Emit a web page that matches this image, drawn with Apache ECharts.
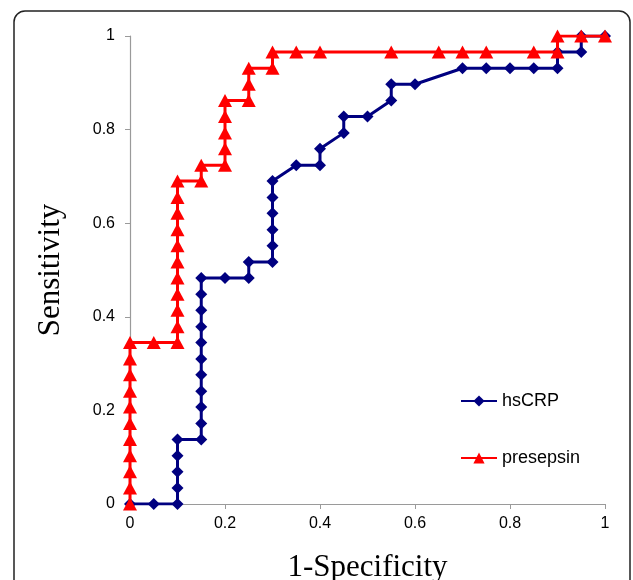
<!DOCTYPE html>
<html>
<head>
<meta charset="utf-8">
<script src="https://cdn.jsdelivr.net/npm/echarts@6/dist/echarts.min.js"></script>
<style>
html,body{margin:0;padding:0;background:#fff;}
#chart{width:633px;height:580px;}
</style>
</head>
<body>
<div id="chart"></div>
<script>
// hsCRP ROC points
const hsX = [0, 0.05, 0.1, 0.1, 0.1, 0.1, 0.1, 0.15, 0.15, 0.15, 0.15, 0.15, 0.15, 0.15, 0.15, 0.15, 0.15, 0.15,
             0.2, 0.25, 0.25, 0.3, 0.3, 0.3, 0.3, 0.3, 0.3, 0.35, 0.4, 0.4, 0.45, 0.45, 0.5, 0.55, 0.55, 0.6,
             0.7, 0.75, 0.8, 0.85, 0.9, 0.9, 0.95, 0.95, 1];
const hsY = [0, 0, 0, 0.034, 0.069, 0.103, 0.138, 0.138, 0.172, 0.207, 0.241, 0.276, 0.310, 0.345, 0.379, 0.414, 0.448, 0.483,
             0.483, 0.483, 0.517, 0.517, 0.552, 0.586, 0.621, 0.655, 0.690, 0.724, 0.724, 0.759, 0.793, 0.828, 0.828, 0.862, 0.897, 0.897,
             0.931, 0.931, 0.931, 0.931, 0.931, 0.966, 0.966, 1, 1];
// presepsin ROC points
const prX = [0, 0, 0, 0, 0, 0, 0, 0, 0, 0, 0, 0.05, 0.1, 0.1, 0.1, 0.1, 0.1, 0.1, 0.1, 0.1, 0.1, 0.1, 0.1,
             0.15, 0.15, 0.2, 0.2, 0.2, 0.2, 0.2, 0.25, 0.25, 0.25, 0.3, 0.3,
             0.35, 0.4, 0.55, 0.65, 0.7, 0.75, 0.85, 0.9, 0.9, 0.95, 1];
const prY = [0, 0.034, 0.069, 0.103, 0.138, 0.172, 0.207, 0.241, 0.276, 0.310, 0.345, 0.345, 0.345, 0.379, 0.414, 0.448, 0.483, 0.517, 0.552, 0.586, 0.621, 0.655, 0.690,
             0.690, 0.724, 0.724, 0.759, 0.793, 0.828, 0.862, 0.862, 0.897, 0.931, 0.931, 0.966,
             0.966, 0.966, 0.966, 0.966, 0.966, 0.966, 0.966, 0.966, 1, 1, 1];
const seriesNames = ['hsCRP', 'presepsin'];
const xTitle = '1-Specificity';
const yTitle = 'Sensitivity';

const chart = echarts.init(document.getElementById('chart'), null, {renderer: 'canvas'});
const pair = (xs, ys) => xs.map((x, i) => [x, ys[i]]);
const tickFmt = v => String(Math.round(v * 10) / 10);

chart.setOption({
  animation: false,
  backgroundColor: '#fff',
  graphic: [{
    type: 'rect', z: -10,
    shape: {x: 14, y: 11, width: 616, height: 620, r: 11},
    style: {fill: 'none', stroke: '#222', lineWidth: 1.5}
  }],
  grid: {left: 130, right: 28, top: 36, bottom: 76, containLabel: false, outerBoundsMode: 'none'},
  xAxis: {
    type: 'value', min: 0, max: 1, interval: 0.2,
    name: xTitle, nameLocation: 'middle', nameGap: 48,
    nameTextStyle: {fontFamily: 'Liberation Serif', fontSize: 31, color: '#000'},
    axisLine: {show: true, onZero: false, lineStyle: {color: '#9a9a9a', width: 1.2}},
    axisTick: {show: true, inside: false, length: 5, lineStyle: {color: '#9a9a9a'}},
    axisLabel: {fontFamily: 'Liberation Sans', fontSize: 16, color: '#000', margin: 12, formatter: tickFmt},
    splitLine: {show: false}
  },
  yAxis: {
    type: 'value', min: 0, max: 1, interval: 0.2,
    name: yTitle, nameLocation: 'middle', nameGap: 64, nameRotate: 90,
    nameTextStyle: {fontFamily: 'Liberation Serif', fontSize: 31, color: '#000'},
    axisLine: {show: true, onZero: false, lineStyle: {color: '#9a9a9a', width: 1.2}},
    axisTick: {show: true, inside: false, length: 5, lineStyle: {color: '#9a9a9a'}},
    axisLabel: {fontFamily: 'Liberation Sans', fontSize: 16, color: '#000', margin: 15, formatter: tickFmt},
    splitLine: {show: false}
  },
  legend: {
    orient: 'vertical', left: 460, top: 392, itemGap: 39, padding: 0,
    itemWidth: 36, itemHeight: 14,
    textStyle: {fontFamily: 'Liberation Sans', fontSize: 18, color: '#000'},
    data: seriesNames
  },
  series: [
    {
      name: seriesNames[0], type: 'line', data: pair(hsX, hsY),
      symbol: 'diamond', symbolSize: 12, showAllSymbol: true,
      lineStyle: {color: '#000080', width: 3},
      itemStyle: {color: '#000080'},
      z: 2
    },
    {
      name: seriesNames[1], type: 'line', data: pair(prX, prY),
      symbol: 'triangle', symbolSize: [14, 13], showAllSymbol: true,
      lineStyle: {color: '#ff0000', width: 3},
      itemStyle: {color: '#ff0000'},
      z: 3
    }
  ]
});
</script>
</body>
</html>
